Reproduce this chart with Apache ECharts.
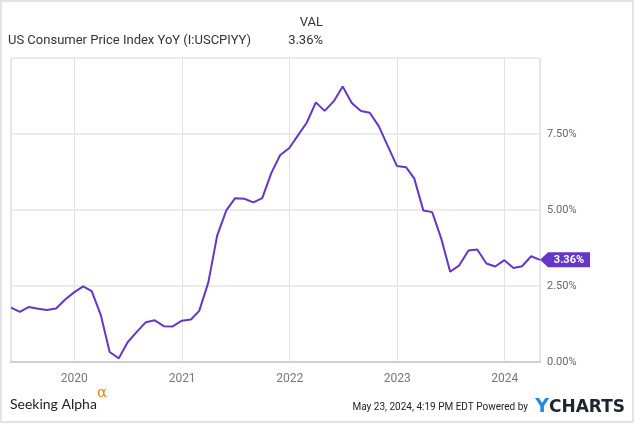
<!DOCTYPE html>
<html>
<head>
<meta charset="utf-8">
<script src="https://cdn.jsdelivr.net/npm/echarts@6/dist/echarts.min.js"></script>
<style>
  html, body { margin: 0; padding: 0; background: #fff; }
  #chart { width: 635px; height: 424px; }
</style>
</head>
<body>
<div id="chart"></div>
<script>
// monthly CPI YoY, plotted at month end
var months = [
  '2019-05-31','2019-06-30','2019-07-31','2019-08-31','2019-09-30','2019-10-31','2019-11-30','2019-12-31',
  '2020-01-31','2020-02-29','2020-03-31','2020-04-30','2020-05-31','2020-06-30','2020-07-31','2020-08-31','2020-09-30','2020-10-31','2020-11-30','2020-12-31',
  '2021-01-31','2021-02-28','2021-03-31','2021-04-30','2021-05-31','2021-06-30','2021-07-31','2021-08-31','2021-09-30','2021-10-31','2021-11-30','2021-12-31',
  '2022-01-31','2022-02-28','2022-03-31','2022-04-30','2022-05-31','2022-06-30','2022-07-31','2022-08-31','2022-09-30','2022-10-31','2022-11-30','2022-12-31',
  '2023-01-31','2023-02-28','2023-03-31','2023-04-30','2023-05-31','2023-06-30','2023-07-31','2023-08-31','2023-09-30','2023-10-31','2023-11-30','2023-12-31',
  '2024-01-31','2024-02-29','2024-03-31','2024-04-30'
];
var cpiYoY = [
  1.79, 1.65, 1.81, 1.75, 1.71, 1.76, 2.05, 2.29,
  2.49, 2.33, 1.54, 0.33, 0.12, 0.65, 0.99, 1.31, 1.37, 1.18, 1.17, 1.36,
  1.40, 1.68, 2.62, 4.16, 4.99, 5.39, 5.37, 5.25, 5.39, 6.22, 6.81, 7.04,
  7.48, 7.87, 8.54, 8.26, 8.58, 9.06, 8.52, 8.26, 8.20, 7.75, 7.11, 6.45,
  6.41, 6.04, 4.98, 4.93, 4.05, 2.97, 3.18, 3.67, 3.70, 3.24, 3.14, 3.35,
  3.09, 3.15, 3.48, 3.36
];
var yTicks = [0, 2.5, 5, 7.5];

var mcharts = echarts.init(document.getElementById('chart'));
var purple = '#6636c8';
var YEAR = 365 * 24 * 3600 * 1000;
var seriesData = months.map(function (m, i) { return [m, cpiYoY[i]]; });
var last = seriesData[seriesData.length - 1];

var option = {
  animation: false,
  textStyle: { fontFamily: 'Roboto' },
  grid: {
    left: 11, right: 95, top: 58, bottom: 62,
    show: true, borderColor: '#d6d6d6', borderWidth: 1
  },
  graphic: [
    { type: 'rect', shape: { x: 1, y: 1, width: 632, height: 421 },
      style: { fill: 'none', stroke: '#e4e4e4', lineWidth: 2 } },
    { type: 'text', left: 8, top: 34,
      style: { text: 'US Consumer Price Index YoY (I:USCPIYY)', font: '13px Roboto', fill: '#333' } },
    { type: 'text', right: 312, top: 16,
      style: { text: 'VAL', font: '13px Roboto', fill: '#333', textAlign: 'right' } },
    { type: 'text', right: 312, top: 34,
      style: { text: cpiYoY[cpiYoY.length - 1].toFixed(2) + '%', font: '13px Roboto', fill: '#333', textAlign: 'right' } },
    { type: 'text', left: 10, top: 397,
      style: { text: 'Seeking Alpha', font: '14px Lato', fill: '#222' } },
    { type: 'text', left: 97, top: 386,
      style: { text: 'α', font: '15px "DejaVu Serif"', fill: '#f0801a' } },
    { type: 'text', right: 107, top: 402,
      style: { text: 'May 23, 2024, 4:19 PM EDT Powered by', font: '10px Roboto', fill: '#222' } },
    { type: 'text', right: 10, top: 398,
      style: {
        text: '{y|Y}{c|CHARTS}',
        rich: {
          y: { font: 'bold 19px "DejaVu Sans"', fill: '#1f8ae6' },
          c: { font: 'bold 17px "DejaVu Sans"', fill: '#1d2530' }
        }
      } }
  ],
  xAxis: {
    type: 'time',
    min: months[0],
    max: months[months.length - 1],
    minInterval: YEAR,
    maxInterval: YEAR * 1.01,
    axisLine: { show: true, lineStyle: { color: '#d0d0d0', width: 2 } },
    axisTick: { show: false },
    axisLabel: {
      formatter: '{yyyy}', color: '#777', fontSize: 12, margin: 11,
      showMinLabel: false, showMaxLabel: false
    },
    splitLine: { show: true, lineStyle: { color: '#e2e2e2', width: 1 } }
  },
  yAxis: {
    type: 'value',
    position: 'right',
    min: 0,
    max: 10,
    interval: 2.5,
    axisLine: { show: false },
    axisTick: { show: false },
    axisLabel: {
      color: '#666', fontSize: 11, margin: 7, padding: [0, 0, 12, 0],
      showMaxLabel: false,
      formatter: function (v) { return yTicks.indexOf(v) >= 0 ? v.toFixed(2) + '%' : ''; }
    },
    splitLine: { show: true, lineStyle: { color: '#ececec', width: 2 } }
  },
  series: [{
    type: 'line',
    data: seriesData,
    showSymbol: false,
    lineStyle: { color: purple, width: 2 },
    markPoint: {
      symbol: 'path://M0,7.5 L8,0 L50,0 L50,15 L8,15 Z',
      symbolSize: [50, 15],
      symbolOffset: [25, 0],
      itemStyle: { color: purple },
      label: {
        show: true, color: '#fff', fontWeight: 'bold', fontSize: 11,
        offset: [4, 0],
        formatter: function (p) { return p.value.toFixed(2) + '%'; }
      },
      data: [{ coord: last, value: last[1] }]
    }
  }]
};
mcharts.setOption(option);
</script>
</body>
</html>
